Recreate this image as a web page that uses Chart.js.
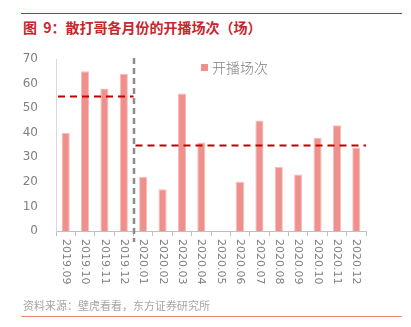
<!DOCTYPE html>
<html>
<head>
<meta charset="utf-8">
<script src="https://cdn.jsdelivr.net/npm/chart.js@4"></script>
<style>
  html, body { margin: 0; padding: 0; background: #fff; }
  body { width: 411px; height: 327px; position: relative; overflow: hidden; font-family: "Noto Sans CJK SC", "Noto Sans", sans-serif; }
  #topLine { position: absolute; left: 21px; top: 13px; width: 381px; height: 1px; background: #C8262B; }
  #title { position: absolute; left: 23px; top: 17px; font-size: 14px; font-weight: bold; color: #C8262B; white-space: nowrap; text-spacing-trim: space-all; }
  #source { position: absolute; left: 23px; top: 297px; font-size: 11px; color: #A6A6A6; white-space: nowrap; text-spacing-trim: space-all; }
  #bottomLine { position: absolute; left: 21px; top: 316px; width: 381px; height: 1px; background: #E8837A; }
  #legend { position: absolute; left: 201px; top: 57px; font-size: 14px; font-weight: 300; color: #7F7F7F; white-space: nowrap; }
  #legend span.box { display: inline-block; width: 7px; height: 7px; background: #F0908D; margin-right: 4px; vertical-align: 2px; }
  canvas { position: absolute; left: 0; top: 0; }
</style>
</head>
<body>
<div id="topLine"></div>
<div id="title">图&nbsp; 9：散打哥各月份的开播场次（场）</div>
<canvas id="chart" width="411" height="327"></canvas>
<div id="legend"><span class="box"></span>开播场次</div>
<div id="source">资料来源：壁虎看看，东方证券研究所</div>
<div id="bottomLine"></div>
<script>
// categorias e valores
const months = ['2019.09', '2019.10', '2019.11', '2019.12', '2020.01', '2020.02', '2020.03', '2020.04',
                '2020.05', '2020.06', '2020.07', '2020.08', '2020.09', '2020.10', '2020.11', '2020.12'];
const sessions = [40, 65, 58, 64, 22, 17, 56, 36, 0, 20, 45, 26, 23, 38, 43, 34];
const yTicks = [0, 10, 20, 30, 40, 50, 60, 70];

// linhas tracejadas de média (valor, primeira e última categoria)
const avgValues = [55, 35];
const avgStart = [0, 4];
const avgEnd = [3, 15];
const dividerAfter = 3; // linha vertical entre 2019.12 e 2020.01

const colors = {
    bar: '#F0908D',
    barEdge: '#F6BDBB',
    avg: '#C00000',
    divider: '#8C8C8C',
    axis: '#BFBFBF',
    text: '#7F7F7F'
};

const overlay = {
    id: 'overlay',
    afterDatasetsDraw(chart) {
        const ctx = chart.ctx;
        const x = chart.scales.x, y = chart.scales.y;
        const half = (x.getPixelForValue(1) - x.getPixelForValue(0)) / 2;
        ctx.save();

        // médias
        ctx.strokeStyle = colors.avg;
        ctx.lineWidth = 2;
        ctx.setLineDash([7, 5]);
        for (let i = 0; i < avgValues.length; i++) {
            const py = Math.round(y.getPixelForValue(avgValues[i])) + 0.5;
            const x0 = x.getPixelForValue(avgStart[i]) - half + 2;
            const x1 = x.getPixelForValue(avgEnd[i]) + half;
            ctx.beginPath();
            ctx.moveTo(x0, py);
            ctx.lineTo(x1, py);
            ctx.stroke();
        }

        // divisor vertical
        const dx = x.getPixelForValue(dividerAfter) + half + 0.5;
        ctx.strokeStyle = colors.divider;
        ctx.lineWidth = 2.5;
        ctx.setLineDash([6, 4]);
        ctx.beginPath();
        ctx.moveTo(dx, y.getPixelForValue(70) - 1);
        ctx.lineTo(dx, chart.chartArea.bottom + 11);
        ctx.stroke();

        // rótulos do eixo x, girados 90° no sentido horário
        ctx.setLineDash([]);
        ctx.fillStyle = colors.text;
        ctx.font = '11px "DejaVu Sans", sans-serif';
        ctx.textAlign = 'left';
        ctx.textBaseline = 'middle';
        months.forEach((m, i) => {
            ctx.save();
            ctx.translate(x.getPixelForValue(i), chart.chartArea.bottom + 8);
            ctx.rotate(Math.PI / 2);
            ctx.fillText(m, 0, 0);
            ctx.restore();
        });
        ctx.restore();
    }
};

new Chart(document.getElementById('chart'), {
    type: 'bar',
    data: {
        labels: months,
        datasets: [{
            label: '开播场次',
            data: sessions,
            backgroundColor: colors.bar,
            borderColor: colors.barEdge,
            borderWidth: { top: 1, left: 1, right: 1, bottom: 0 },
            barPercentage: 0.42,
            categoryPercentage: 1
        }]
    },
    options: {
        responsive: false,
        animation: false,
        layout: { padding: { left: 20, top: 59, right: 45, bottom: 26 } },
        plugins: {
            legend: { display: false },
            tooltip: { enabled: false }
        },
        scales: {
            x: {
                offset: true,
                grid: { drawOnChartArea: false, drawTicks: true, tickLength: 5, color: colors.axis },
                border: { color: colors.axis },
                ticks: { display: false },
                afterFit: (s) => { s.height = 70; }
            },
            y: {
                min: 0,
                max: 70,
                afterBuildTicks: (s) => { s.ticks = yTicks.map(v => ({ value: v })); },
                grid: { display: false },
                border: { color: '#D9D9D9' },
                ticks: { color: colors.text, font: { size: 12, family: '"DejaVu Sans", sans-serif' }, padding: 10 },
                afterFit: (s) => { s.width = 36; }
            }
        }
    },
    plugins: [overlay]
});
</script>
</body>
</html>
